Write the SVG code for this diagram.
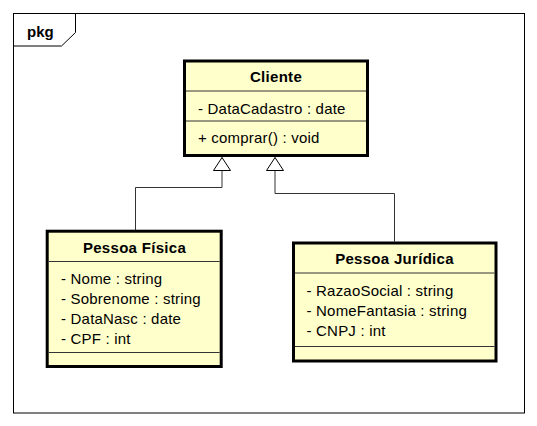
<svg xmlns="http://www.w3.org/2000/svg" width="537" height="426" viewBox="0 0 537 426">
<style>
.frame{fill:#fff;stroke:#000;stroke-width:1}
.box{fill:#ffffcc;stroke:#000;stroke-width:3}
.sep{stroke:#333;stroke-width:1}
.title{font-family:"Liberation Sans",Arial,sans-serif;font-size:15px;font-weight:bold;letter-spacing:0.3px;fill:#000;text-anchor:middle}
.attr{font-family:"Liberation Sans",Arial,sans-serif;font-size:15px;letter-spacing:0.2px;fill:#000}
.conn{fill:none;stroke:#333;stroke-width:1}
</style>
<defs>
<marker id="gen" markerUnits="userSpaceOnUse" viewBox="-1 -1 15 19" markerWidth="15" markerHeight="19" refX="13" refY="8.5" orient="auto">
<path d="M0,0 L13,8.5 L0,17 Z" fill="#fff" stroke="#000" stroke-width="1"/>
</marker>
</defs>
<rect width="537" height="426" fill="#fff"/>
<g id="package">
<rect class="frame" x="13.5" y="13.5" width="511" height="399.5"/>
<path d="M13.5,46 H61.5 L75.5,32.5 V13.5" fill="none" stroke="#000" stroke-width="1"/>
<text x="27" y="37" font-family="Liberation Sans,Arial,sans-serif" font-size="15px" font-weight="bold">pkg</text>
</g>
<g id="connectors">
<path class="conn" d="M135.5,230 V187.5 H222 V157.5" marker-end="url(#gen)"/>
<path class="conn" d="M394.5,241.5 V193.5 H275 V157.5" marker-end="url(#gen)"/>
</g>
<g id="cliente">
<rect class="box" x="184.5" y="61" width="183" height="94.5"/>
<line class="sep" x1="186" y1="91" x2="366" y2="91"/>
<line class="sep" x1="186" y1="121" x2="366" y2="121"/>
<text class="title" x="276" y="82">Cliente</text>
<text class="attr" x="198" y="114">- DataCadastro : date</text>
<text class="attr" x="198" y="143">+ comprar() : void</text>
</g>
<g id="pessoa-fisica">
<rect class="box" x="47.2" y="231.2" width="174" height="135.3"/>
<line class="sep" x1="48.7" y1="261.5" x2="219.7" y2="261.5"/>
<line class="sep" x1="48.7" y1="352.5" x2="219.7" y2="352.5"/>
<text class="title" x="134.5" y="253">Pessoa Física</text>
<text class="attr" x="61" y="284">- Nome : string</text>
<text class="attr" x="61" y="304">- Sobrenome : string</text>
<text class="attr" x="61" y="324">- DataNasc : date</text>
<text class="attr" x="61" y="344">- CPF : int</text>
</g>
<g id="pessoa-juridica">
<rect class="box" x="293.5" y="243" width="202.5" height="118"/>
<line class="sep" x1="295" y1="273" x2="494.5" y2="273"/>
<line class="sep" x1="295" y1="346.5" x2="494.5" y2="346.5"/>
<text class="title" x="394.5" y="264">Pessoa Jurídica</text>
<text class="attr" x="306.5" y="296">- RazaoSocial : string</text>
<text class="attr" x="306.5" y="316">- NomeFantasia : string</text>
<text class="attr" x="306.5" y="336">- CNPJ : int</text>
</g>
</svg>
